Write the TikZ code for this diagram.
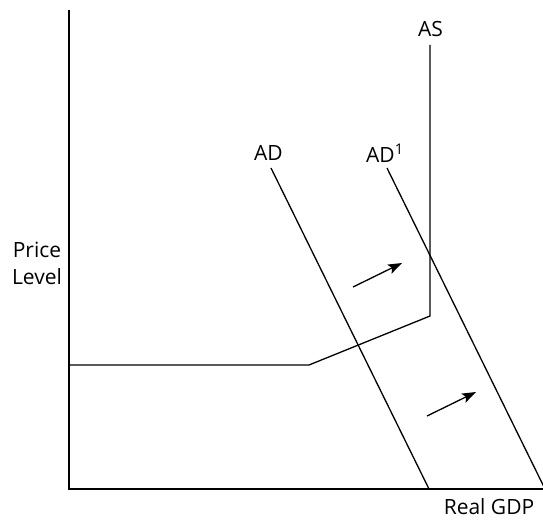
\documentclass[tikz,border=0pt]{standalone}
\usepackage{fontspec}
\setmainfont{Open Sans}
\usetikzlibrary{arrows.meta}
\begin{document}
\begin{tikzpicture}[x=1pt,y=-1pt,
  curve/.style={line width=1.3pt,black},
  movearrow/.style={line width=1.3pt,-{Stealth[length=14pt,width=10pt,inset=3pt]}},
  lbl/.style={font=\fontsize{21}{27}\selectfont,inner sep=0pt}]
\useasboundingbox (0,0) rectangle (543,519);
\coordinate (top) at (69,10);
\coordinate (origin) at (69,489);
\coordinate (xend) at (543,489);
\draw[curve] (top) -- (origin) -- (xend);
% AS
\coordinate (as1) at (69,365);
\coordinate (as2) at (309,365);
\coordinate (as3) at (430,316);
\coordinate (as4) at (430,45);
\draw[curve] (as1) -- (as2) -- (as3) -- (as4);
% AD
\coordinate (ad1) at (271,168);
\coordinate (ad2) at (429,489);
\draw[curve] (ad1) -- (ad2);
\coordinate (adb1) at (387,168);
\coordinate (adb2) at (545,489);
\begin{scope}
\clip (0,0) rectangle (543,519);
\draw[curve] (adb1) -- (adb2);
\end{scope}
% arrows
\coordinate (a1s) at (353,287);
\coordinate (a1e) at (402,263);
\draw[movearrow] (a1s) -- (a1e);
\coordinate (a2s) at (427,416);
\coordinate (a2e) at (476,392);
\draw[movearrow] (a2s) -- (a2e);
% labels
\node[lbl] (lAS) at (430.5,29) {AS};
\node[lbl] (lAD) at (268.5,153) {AD};
\node[lbl,anchor=west] (lAD1) at (366,153) {AD\textsuperscript{1}};
\node[lbl,align=center] (lPL) at (37,263) {Price\\Level};
\node[lbl] (lGDP) at (489,507) {Real GDP};
\end{tikzpicture}
\end{document}
